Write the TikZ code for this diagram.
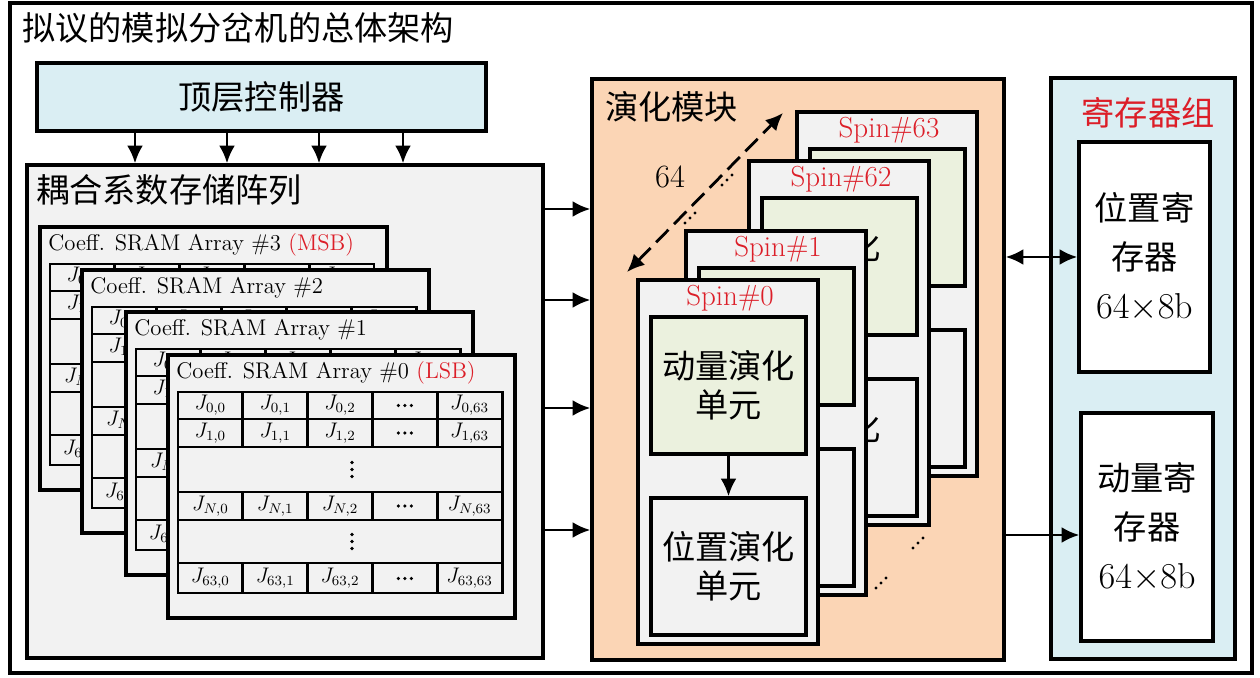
\documentclass[tikz,border=0pt]{standalone}
\usepackage{fontspec}
\usepackage{xcolor}
\usetikzlibrary{arrows.meta}
\newfontfamily\cjk{Noto Sans CJK SC}
\definecolor{ctrlblue}{HTML}{DAEEF3}
\definecolor{evopeach}{HTML}{FBD5B5}
\definecolor{spingreen}{HTML}{EBF1DE}
\definecolor{boxgray}{HTML}{F2F2F2}
\definecolor{sred}{HTML}{DC1E28}
\newcommand\hdotsat[2]{\foreach \k in {-6.5,0,6.5} \fill ({#1+\k},#2) circle[radius=1.8];}
\newcommand\vdotsat[2]{\foreach \k in {-7,0,7} \fill (#1,{#2+\k}) circle[radius=1.8];}
\newcommand\ddotsat[2]{\foreach \k in {-5,0,5} \fill ({#1+\k},{#2-(\k)}) circle[radius=1.7];}
\tikzset{
  frameline/.style={draw, line width=2pt},
  block/.style={draw, line width=2pt},
  cellline/.style={line width=1.7pt},
  cell/.style={inner sep=0pt, font=\fontsize{12}{13}\selectfont},
  cjktext/.style={font=\cjk\fontsize{18.9}{22}\selectfont},
  unit/.style={block, minimum width=3.1cm, minimum height=2.74cm, inner sep=0pt},
  unittext/.style={cjktext, align=center, inner sep=0pt},
  regbox/.style={block, fill=white, font=\cjk\fontsize{18.9}{28}\selectfont, align=center, inner sep=0pt},
  arr/.style={line width=1.5pt, -{Latex[length=10pt,width=9pt]}},
  biarr/.style={line width=1.5pt, {Latex[length=10pt,width=9pt]}-{Latex[length=10pt,width=9pt]}},
  dasharr/.style={line width=1.6pt, dash pattern=on 10pt off 4.5pt, {Latex[length=10pt,width=9pt]}-{Latex[length=10pt,width=9pt]}},
  pics/sram/.style={code={
    \draw[block, fill=boxgray] (0,0) rectangle (347,263);
    \node[anchor=west, inner sep=0pt, font=\fontsize{12.9}{14}\selectfont] (-title) at (8,18) {#1};
    \begin{scope}[shift={(10,37)}]
      \draw[cellline] (0,0) rectangle (324,201);
      \foreach \yy in {27,55,100,128,171}
        \draw[cellline] (0,\yy) -- (324,\yy);
      \foreach \ya/\yb in {0/27,27/55,100/128,171/201}
        \foreach \xx in {64.8,129.6,194.4,259.2}
          \draw[cellline] (\xx,\ya) -- (\xx,\yb);
      \foreach \rw/\yy in {0/13.5,1/41,N/114,63/186.5}{
        \foreach \cl/\xx in {0/32.4,1/97.2,2/162,63/291.6}
          \node[cell] (-j\rw-\cl) at (\xx,\yy) {$J_{\rw,\cl}$};
        \hdotsat{226.8}{\yy}
      }
      \vdotsat{174}{77.5}
      \vdotsat{174}{149.5}
    \end{scope}
  }},
  pics/spin/.style n args={2}{code={
    \draw[block, fill=boxgray] (0,0) rectangle (180,364);
    \node[inner sep=0pt, text=sred, font=\fontsize{16.5}{18}\selectfont] (-lab) at (92,18) {Spin\##1};
    \node[unit, fill=spingreen] (-mom) at (90.5,105.5) {};
    \node[unittext] (-momtext) at ({90.5+#2},105.5) {动量演化\\单元};
    \node[unit, fill=boxgray] (-pos) at (90.5,286.5) {};
    \node[unittext] (-postext) at ({90.5+#2},286.5) {位置演化\\单元};
    \draw[arr] (-mom) -- (-pos);
  }},
}

\begin{document}
\begin{tikzpicture}[x=0.02cm, y=-0.02cm]
\useasboundingbox (0,0) rectangle (1260,678);
\draw[frameline] (10,3) rectangle (1252,673);
\node[cjktext, anchor=west, inner sep=0pt] (title) at (22,28) {拟议的模拟分岔机的总体架构};

% controller and coefficient arrays
\node[block, fill=ctrlblue, cjktext, minimum width=8.98cm, minimum height=1.36cm] (ctrl) at (261.5,97) {顶层控制器};
\node[block, fill=boxgray, minimum width=10.32cm, minimum height=9.86cm] (coup) at (285,411.5) {};
\node[cjktext, anchor=west, inner sep=0pt] (couptitle) at (36,190) {耦合系数存储阵列};
\foreach \n/\ox/\oy/\tag in {3/40/227/{\textcolor{sred}{(MSB)}}, 2/82/270/{}, 1/126/312/{}, 0/168/355/{\textcolor{sred}{(LSB)}}}
  \pic (arr\n) at (\ox,\oy) {sram={Coeff. SRAM Array \#\n\ \tag}};
\foreach \xx in {135,227,319,403}
  \draw[arr] (ctrl.south -| \xx,0) -- (coup.north -| \xx,0);

% evolution module
\node[block, fill=evopeach, minimum width=8.24cm, minimum height=11.62cm] (evo) at (798,369.5) {};
\node[cjktext, anchor=west, inner sep=0pt] (evotitle) at (605,107) {演化模块};
\foreach \n/\ox/\oy/\dx in {63/797/112/-25, 62/749/161/-25, 1/686/231/-25, 0/638/280/0}
  \pic (s\n) at (\ox,\oy) {spin={\n}{\dx}};
\coordinate (dstart) at (627,272);
\coordinate (dend) at (783,113);
\draw[dasharr] (dstart) -- (dend);
\node[inner sep=0pt, font=\fontsize{18.5}{20}\selectfont] (cnt) at (670,177) {64};
\ddotsat{727}{180} \ddotsat{690}{218} \ddotsat{918}{543} \ddotsat{881}{583}

% register group
\node[block, fill=ctrlblue, minimum width=3.68cm, minimum height=11.62cm] (reg) at (1143,368.5) {};
\node[cjktext, text=sred, inner sep=0pt] (regtitle) at (1148,113) {寄存器组};
\node[regbox, minimum width=2.62cm, minimum height=4.6cm] (posreg) at (1144.5,257) {位置寄\\存器\\{\rmfamily\fontsize{20.5}{28}\selectfont$64{\times}8$b}};
\node[regbox, minimum width=2.64cm, minimum height=4.56cm] (momreg) at (1147,527) {动量寄\\存器\\{\rmfamily\fontsize{20.5}{28}\selectfont$64{\times}8$b}};

\foreach \yy in {209,300,408,530}
  \draw[arr] (coup.east |- 0,\yy) -- (evo.west |- 0,\yy);
\draw[biarr] (evo.east |- posreg.west) -- (posreg.west);
\draw[arr] (evo.east |- 0,535) -- (momreg.west |- 0,535);
\end{tikzpicture}
\end{document}
